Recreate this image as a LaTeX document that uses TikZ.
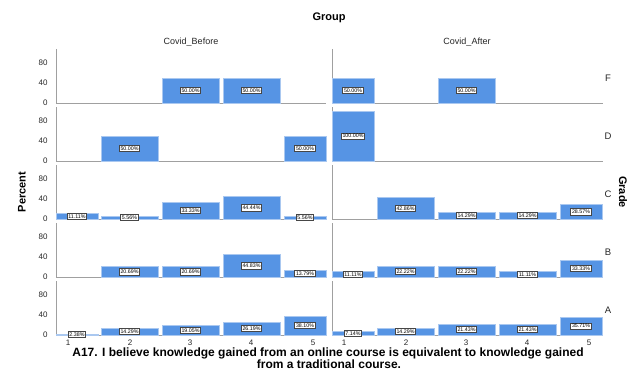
\documentclass[tikz,border=0pt]{standalone}
\usepackage{fontspec}
\setmainfont{Liberation Sans}
\definecolor{barblue}{RGB}{86,148,228}
\definecolor{baredge}{RGB}{170,200,240}
\definecolor{axisgray}{RGB}{160,160,160}
\definecolor{lblgray}{RGB}{70,70,70}

% one bar: #1 panel x offset, #2 baseline, #3 category (1-5), #4 percent
\newcommand\gbar[4]{%
  \pgfmathsetmacro\xl{{56,101,162,223,284}[#3-1]+#1}%
  \pgfmathsetmacro\xr{{98,158,219,280,326}[#3-1]+#1}%
  \path[barbox] (\xl,#2) rectangle (\xr,{#2-#4*0.5});
  \node[vallabel] (v#1-#2-#3) at ({(\xl+\xr)/2},{#2-#4*0.25}) {#4\%};
}

\begin{document}
\begin{tikzpicture}[x=1pt,y=-1pt,
  axisline/.style={draw=axisgray, line width=1pt},
  barbox/.style={fill=barblue, draw=baredge, line width=0.6pt},
  vallabel/.style={draw=lblgray, fill=white, line width=0.7pt, inner sep=1.2pt,
    font=\fontsize{5.3}{6}\selectfont},
  ticklbl/.style={font=\fontsize{8}{9}\selectfont, text=black!85, anchor=east},
  catlbl/.style={font=\fontsize{8}{9}\selectfont, text=black!85},
  rowlbl/.style={font=\fontsize{9.5}{11}\selectfont, text=black!85},
  headlbl/.style={font=\fontsize{9}{11}\selectfont, text=black!85},
  titlelbl/.style={font=\bfseries\fontsize{11}{12}\selectfont},
  xtitlelbl/.style={font=\bfseries\fontsize{12}{13}\selectfont}]
\useasboundingbox (0,0) rectangle (637,369);

% titles
\node[titlelbl] (group) at (329,18) {Group};
\node[headlbl] (before) at (191,42) {Covid\_Before};
\node[headlbl] (after) at (467,42) {Covid\_After};
\node[titlelbl, rotate=90] (percent) at (22,192) {Percent};
\node[titlelbl, rotate=-90] (grade) at (623,192) {Grade};

% axes, tick labels and row labels
\foreach \b/\g in {103/F,161/D,219/C,277/B,335/A} {
  \draw[axisline] (56,\b-54) -- (56,\b) -- (326,\b);
  \draw[axisline] (332,\b-54) -- (332,\b) -- (603,\b);
  \node[ticklbl] (t0\g) at (51,\b) {0};
  \node[ticklbl] (t40\g) at (51,\b-20) {40};
  \node[ticklbl] (t80\g) at (51,\b-40) {80};
  \node[rowlbl] (row\g) at (608,\b-25) {\g};
}

% category labels
\foreach \k/\x in {1/68,2/130,3/190,4/251,5/313} {
  \node[catlbl] (cl\k) at (\x,343) {\k};
  \node[catlbl] (cr\k) at (\x+276,343) {\k};
}

% Covid_Before
\gbar{0}{103}{3}{50.00}
\gbar{0}{103}{4}{50.00}
\gbar{0}{161}{2}{50.00}
\gbar{0}{161}{5}{50.00}
\gbar{0}{219}{1}{11.11}
\gbar{0}{219}{2}{5.56}
\gbar{0}{219}{3}{33.33}
\gbar{0}{219}{4}{44.44}
\gbar{0}{219}{5}{5.56}
\gbar{0}{277}{2}{20.69}
\gbar{0}{277}{3}{20.69}
\gbar{0}{277}{4}{44.83}
\gbar{0}{277}{5}{13.79}
\gbar{0}{335}{1}{2.38}
\gbar{0}{335}{2}{14.29}
\gbar{0}{335}{3}{19.05}
\gbar{0}{335}{4}{26.19}
\gbar{0}{335}{5}{38.10}

% Covid_After
\gbar{276}{103}{1}{50.00}
\gbar{276}{103}{3}{50.00}
\gbar{276}{161}{1}{100.00}
\gbar{276}{219}{2}{42.86}
\gbar{276}{219}{3}{14.29}
\gbar{276}{219}{4}{14.29}
\gbar{276}{219}{5}{28.57}
\gbar{276}{277}{1}{11.11}
\gbar{276}{277}{2}{22.22}
\gbar{276}{277}{3}{22.22}
\gbar{276}{277}{4}{11.11}
\gbar{276}{277}{5}{33.33}
\gbar{276}{335}{1}{7.14}
\gbar{276}{335}{2}{14.29}
\gbar{276}{335}{3}{21.43}
\gbar{276}{335}{4}{21.43}
\gbar{276}{335}{5}{35.71}

% axis title, two lines
\node[xtitlelbl] (xtitle1) at (328,353)
  {A17. I believe knowledge gained from an online course is equivalent to knowledge gained};
\node[xtitlelbl] (xtitle2) at (329,364.5) {from a traditional course.};
\end{tikzpicture}
\end{document}
